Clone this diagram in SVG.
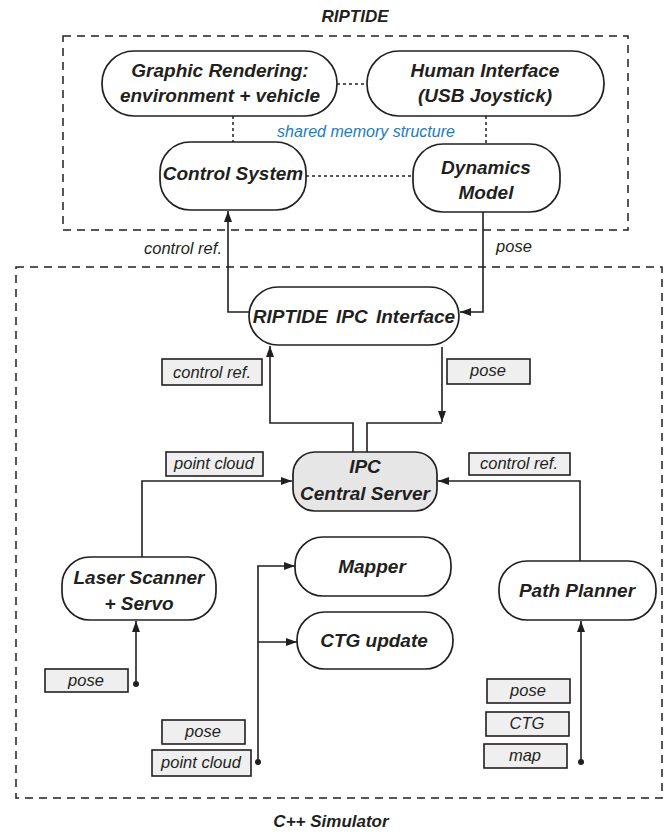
<svg xmlns="http://www.w3.org/2000/svg" width="670" height="834" viewBox="0 0 670 834">
  <defs>
    <marker id="arrow" markerUnits="userSpaceOnUse" markerWidth="12" markerHeight="8" refX="11" refY="4" orient="auto">
      <path d="M0,0 L11,4 L0,8 z" fill="#231f20"/>
    </marker>
    <style>
      .node { fill: #ffffff; stroke: #231f20; stroke-width: 1.7; }
      .server { fill: #e6e6e7; stroke: #231f20; stroke-width: 1.7; }
      .tag { fill: #efeff0; stroke: #231f20; stroke-width: 1.6; }
      .frame { fill: none; stroke: #231f20; stroke-width: 1.5; stroke-dasharray: 8 6; }
      .dotted { fill: none; stroke: #231f20; stroke-width: 1.5; stroke-dasharray: 3 3; }
      .wire { fill: none; stroke: #231f20; stroke-width: 1.6; }
      .arrow { marker-end: url(#arrow); }
      .dot { fill: #231f20; }
      .title { font-family: "Liberation Sans", Arial, sans-serif; font-weight: bold; font-style: italic; font-size: 17px; fill: #231f20; text-anchor: middle; }
      .label { font-family: "Liberation Sans", Arial, sans-serif; font-weight: bold; font-style: italic; font-size: 19px; fill: #231f20; text-anchor: middle; }
      .small { font-family: "Liberation Sans", Arial, sans-serif; font-style: italic; font-size: 16.5px; fill: #231f20; text-anchor: middle; }
      .note { font-family: "Liberation Sans", Arial, sans-serif; font-style: italic; font-size: 16px; fill: #1b7bc4; text-anchor: middle; }
    </style>
  </defs>

  <!-- subsystem frames -->
  <g id="frames">
    <rect class="frame" x="63" y="36" width="565" height="194"/>
    <text class="title" x="355" y="22">RIPTIDE</text>
    <rect class="frame" x="16" y="267" width="646" height="531"/>
    <text class="title" x="331" y="827">C++ Simulator</text>
  </g>

  <!-- shared memory links -->
  <g id="shared-memory">
    <path class="dotted" d="M337,84 H367"/>
    <path class="dotted" d="M233,116 V142"/>
    <path class="dotted" d="M486,116 V144"/>
    <path class="dotted" d="M306,176 H413"/>
    <text class="note" x="366" y="137">shared memory structure</text>
  </g>

  <!-- connectors -->
  <g id="connectors">
    <path class="wire arrow" d="M249,312 H228 V211"/>
    <path class="wire arrow" d="M483,212 V312 H460"/>
    <path class="wire arrow" d="M353,452 V423 H270 V346"/>
    <path class="wire arrow" d="M442,347 V422"/>
    <path class="wire" d="M442,423 H367 V452"/>
    <path class="wire arrow" d="M142,557 V481 H292"/>
    <path class="wire arrow" d="M580,561 V481 H438"/>
    <path class="wire arrow" d="M136,684 V621"/>
    <path class="wire arrow" d="M258,762 V566 H295"/>
    <path class="wire arrow" d="M258,642 H297"/>
    <path class="wire arrow" d="M581,762 V621"/>
    <circle class="dot" cx="136" cy="684" r="3"/>
    <circle class="dot" cx="258" cy="762" r="3"/>
    <circle class="dot" cx="581" cy="762" r="3"/>
  </g>

  <!-- RIPTIDE nodes -->
  <g id="graphic-rendering">
    <rect class="node" x="102" y="51" width="235" height="65" rx="32"/>
    <text class="label" x="220" y="77">Graphic Rendering:</text>
    <text class="label" x="220" y="102">environment + vehicle</text>
  </g>
  <g id="human-interface">
    <rect class="node" x="367" y="51" width="237" height="65" rx="32"/>
    <text class="label" x="485" y="77">Human Interface</text>
    <text class="label" x="485" y="102">(USB Joystick)</text>
  </g>
  <g id="control-system">
    <rect class="node" x="160" y="142" width="146" height="68" rx="30"/>
    <text class="label" x="233" y="180">Control System</text>
  </g>
  <g id="dynamics-model">
    <rect class="node" x="413" y="144" width="147" height="68" rx="30"/>
    <text class="label" x="486" y="174">Dynamics</text>
    <text class="label" x="486" y="199">Model</text>
  </g>
  <text class="small" x="183" y="254">control ref.</text>
  <text class="small" x="514" y="252">pose</text>

  <!-- simulator nodes -->
  <g id="riptide-ipc-interface">
    <rect class="node" x="249" y="287" width="210" height="58" rx="29"/>
    <text class="label" x="354" y="323" word-spacing="3">RIPTIDE IPC Interface</text>
  </g>
  <g id="ipc-central-server">
    <rect class="server" x="293" y="452" width="144" height="59" rx="22"/>
    <text class="label" x="365" y="473">IPC</text>
    <text class="label" x="365" y="500">Central Server</text>
  </g>
  <g id="laser-scanner">
    <rect class="node" x="62" y="557" width="154" height="63" rx="28"/>
    <text class="label" x="139" y="584">Laser Scanner</text>
    <text class="label" x="139" y="610">+ Servo</text>
  </g>
  <g id="mapper">
    <rect class="node" x="295" y="537" width="156" height="59" rx="28"/>
    <text class="label" x="372" y="573">Mapper</text>
  </g>
  <g id="ctg-update">
    <rect class="node" x="297" y="612" width="156" height="57" rx="28"/>
    <text class="label" x="374" y="647">CTG update</text>
  </g>
  <g id="path-planner">
    <rect class="node" x="499" y="561" width="157" height="59" rx="28"/>
    <text class="label" x="577" y="597">Path Planner</text>
  </g>

  <!-- message tags -->
  <g id="tags">
    <rect class="tag" x="162" y="359" width="100" height="26"/>
    <text class="small" x="212" y="378">control ref.</text>
    <rect class="tag" x="447" y="359" width="83" height="25"/>
    <text class="small" x="488" y="376">pose</text>
    <rect class="tag" x="166" y="452" width="97" height="24"/>
    <text class="small" x="214" y="469">point cloud</text>
    <rect class="tag" x="469" y="453" width="101" height="22"/>
    <text class="small" x="519" y="469">control ref.</text>
    <rect class="tag" x="45" y="669" width="83" height="23"/>
    <text class="small" x="86" y="686">pose</text>
    <rect class="tag" x="162" y="720" width="83" height="24"/>
    <text class="small" x="203" y="737">pose</text>
    <rect class="tag" x="152" y="750" width="99" height="26"/>
    <text class="small" x="201" y="768">point cloud</text>
    <rect class="tag" x="487" y="679" width="83" height="24"/>
    <text class="small" x="528" y="696">pose</text>
    <rect class="tag" x="486" y="712" width="83" height="24"/>
    <text class="small" x="527" y="729">CTG</text>
    <rect class="tag" x="484" y="744" width="83" height="24"/>
    <text class="small" x="525" y="761">map</text>
  </g>
</svg>
